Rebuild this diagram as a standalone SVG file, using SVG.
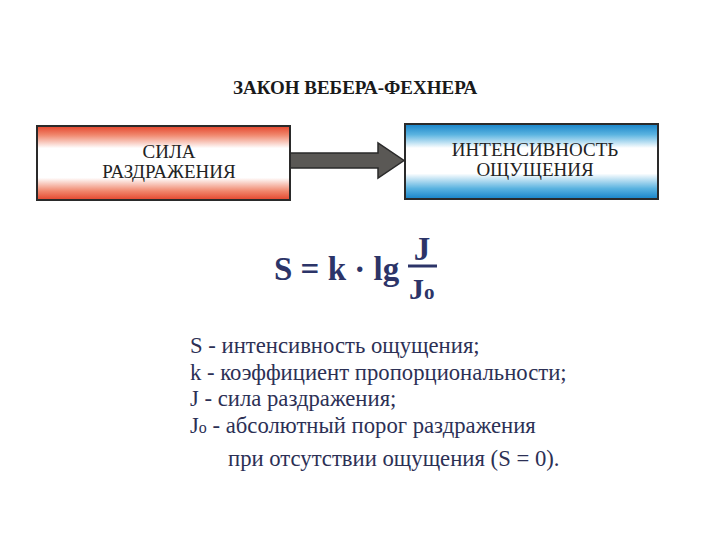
<svg xmlns="http://www.w3.org/2000/svg" width="720" height="540" viewBox="0 0 720 540">
<defs>
<linearGradient id="red" x1="0" y1="0" x2="0" y2="1">
<stop offset="0" stop-color="#e4452c"/>
<stop offset="0.12" stop-color="#f0866c"/>
<stop offset="0.3" stop-color="#ffffff"/>
<stop offset="0.7" stop-color="#ffffff"/>
<stop offset="0.88" stop-color="#f0866c"/>
<stop offset="1" stop-color="#e4452c"/>
</linearGradient>
<linearGradient id="blue" x1="0" y1="0" x2="0" y2="1">
<stop offset="0" stop-color="#1783c8"/>
<stop offset="0.14" stop-color="#5ab3e0"/>
<stop offset="0.32" stop-color="#ffffff"/>
<stop offset="0.66" stop-color="#ffffff"/>
<stop offset="0.86" stop-color="#5ab3e0"/>
<stop offset="1" stop-color="#1783c8"/>
</linearGradient>
</defs>
<style>
.serif{font-family:"Liberation Serif","DejaVu Serif",serif;}
.title{font-size:19px;font-weight:bold;fill:#1a1a1a;}
.box{stroke:#2a2a2a;stroke-width:2;}
.lbl{font-size:19px;fill:#222;text-anchor:middle;}
.f{font-weight:bold;fill:#2c3468;}
.d{font-size:22.7px;fill:#2c3055;}
</style>
<rect width="720" height="540" fill="#ffffff"/>
<text class="serif title" x="355" y="94" text-anchor="middle">ЗАКОН ВЕБЕРА-ФЕХНЕРА</text>
<g id="connectors">
<path d="M290 153 L378 153 L378 143 L404 160.5 L378 178 L378 168 L290 168 Z" fill="#5a5855" stroke="#2a2a2a" stroke-width="1.5"/>
</g>
<g id="node-sila">
<rect class="box" x="37" y="126" width="253" height="74" fill="url(#red)"/>
<text class="serif lbl" x="169" y="158">СИЛА</text>
<text class="serif lbl" x="169" y="178">РАЗДРАЖЕНИЯ</text>
</g>
<g id="node-intens">
<rect class="box" x="405" y="124" width="253" height="75" fill="url(#blue)"/>
<text class="serif lbl" x="535" y="156">ИНТЕНСИВНОСТЬ</text>
<text class="serif lbl" x="535" y="176">ОЩУЩЕНИЯ</text>
</g>
<g id="formula">
<text class="serif f" x="274" y="280" font-size="33">S = k · lg</text>
<text class="serif f" x="422" y="260" font-size="33" text-anchor="middle">J</text>
<line x1="408" y1="266" x2="437" y2="266" stroke="#2c3468" stroke-width="3"/>
<text class="serif f" x="409" y="299" font-size="30">J<tspan font-size="21">o</tspan></text>
</g>
<g id="legend">
<text class="serif d" x="190" y="353">S - интенсивность ощущения;</text>
<text class="serif d" x="190" y="380">k - коэффициент пропорциональности;</text>
<text class="serif d" x="190" y="406">J - сила раздражения;</text>
<text class="serif d" x="190" y="433">J<tspan font-size="16">o</tspan> - абсолютный порог раздражения</text>
<text class="serif d" x="228" y="466">при отсутствии ощущения (S = 0).</text>
</g>
</svg>
